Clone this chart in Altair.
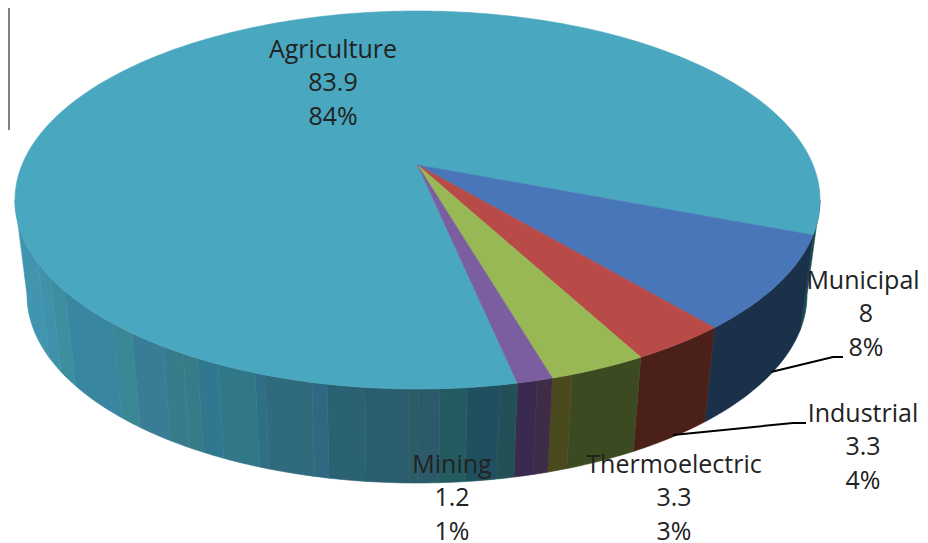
import math
import altair as alt
import pandas as pd

categories = ["Municipal", "Industrial", "Thermoelectric", "Mining", "Agriculture"]
values = [8, 3.3, 3.3, 1.2, 83.9]
percents = ["8%", "4%", "3%", "1%", "84%"]
top_colors = ["#4876b8", "#b84a48", "#98b856", "#7b5ea0", "#49a7c0"]

# shading of the wall: for each slice, where its facets end (degrees round the rim) and their colours
wall_sets = {
    "Municipal": ([], ["#1b3149"]),
    "Industrial": ([], ["#4a2018"]),
    "Thermoelectric": ([67.4], ["#3c4a22", "#4a4a1e"]),
    "Mining": ([72.7], ["#3f2c46", "#3a2a4f"]),
    "Agriculture": (
        [78.2, 82.9, 86.8, 89.9, 91.1, 97.5, 103.0, 105.2, 112.3, 113.8, 119.7, 123.2, 125.6,
         129.2, 135.2, 139.2, 151.1, 155.9, 160.6],
        ["#235056", "#20505f", "#235b60", "#2b5a6b", "#2a5c66", "#2a5d6e", "#2a6273", "#2f6880",
         "#2f6b7c", "#2f6f86", "#307788", "#30788f", "#367c87", "#387c8c", "#387c96", "#3a8795",
         "#38869f", "#3c8fa0", "#3f92a9", "#4195ae"],
    ),
}
back_edge_color = "#1c4a55"

START_DEG = 21.0
BOOST = 0.185
TOP = (417.5, 200.0, 402.5, 189.0)
BOTTOM = (417.0, 295.0, 390.0, 188.0)


def tilt(deg):
    """Angle on the drawn ellipse for a true pie angle (perspective view of the disc)."""
    c, s = math.cos(math.radians(deg)), math.sin(math.radians(deg))
    d = 1 - BOOST * s
    return math.degrees(math.atan2((s - BOOST) / d, math.sqrt(1 - BOOST**2) * c / d))


def on_rim(ellipse, t):
    cx, cy, a, b = ellipse
    return cx + a * math.cos(math.radians(t)), cy + b * math.sin(math.radians(t))


def arc(a, b, step=1.0):
    n = max(2, int(abs(b - a) / step) + 1)
    return [a + (b - a) * i / n for i in range(n + 1)]


total = sum(values)
edges = [START_DEG]
for v in values:
    edges.append(edges[-1] + v / total * 360)

x_scale = alt.Scale(domain=[8, 920], nice=False, zero=False)
y_scale = alt.Scale(domain=[543, 8], nice=False, zero=False)


def poly(points, color):
    df = pd.DataFrame({"px": [p[0] for p in points] + [points[0][0]],
                       "py": [p[1] for p in points] + [points[0][1]]})
    df["k"] = range(len(df))
    return alt.Chart(df).mark_line(fill=color, stroke=color, strokeWidth=0.6, clip=True).encode(
        x=alt.X("px:Q", scale=x_scale, axis=None),
        y=alt.Y("py:Q", scale=y_scale, axis=None),
        order="k:Q",
    )


def wall(t1, t2, color):
    ts = arc(t1, t2)
    return poly([on_rim(TOP, t) for t in ts] + [on_rim(BOTTOM, t) for t in reversed(ts)], color)


layers = [wall(0, tilt(edges[0]), back_edge_color)]
for i, name in enumerate(categories):
    start_t = tilt(edges[i])
    end_t = tilt(edges[i + 1]) if name != "Agriculture" else 180.0
    breaks, cols = wall_sets[name]
    ends = [start_t] + breaks + [end_t]
    for j, col in enumerate(cols):
        layers.append(wall(ends[j], ends[j + 1], col))

apex = (TOP[0], TOP[1] - BOOST * TOP[3])
for i in [4, 0, 1, 2, 3]:
    pts = [apex] + [on_rim(TOP, tilt(d)) for d in arc(edges[i], edges[i + 1])]
    layers.append(poly(pts, top_colors[i]))

# leader lines
leaders = pd.DataFrame({
    "g": ["m", "m", "m", "i", "i", "i"],
    "k": [0, 1, 2, 0, 1, 2],
    "px": [771, 833, 843, 673, 793, 806],
    "py": [372, 357, 357, 435, 423, 423],
})
layers.append(alt.Chart(leaders).mark_line(color="#000000", strokeWidth=2).encode(
    x=alt.X("px:Q", scale=x_scale, axis=None),
    y=alt.Y("py:Q", scale=y_scale, axis=None),
    detail="g:N", order="k:Q"))

# stray frame line at the picture's left edge
frame = pd.DataFrame({"px": [9, 9], "py": [8, 130]})
layers.append(alt.Chart(frame).mark_line(color="#808080", strokeWidth=2).encode(
    x=alt.X("px:Q", scale=x_scale, axis=None),
    y=alt.Y("py:Q", scale=y_scale, axis=None)))

name_x = [863, 863, 674, 452, 333]
number_x = [866, 863, 674, 452, 333]
label_y = [281, 414, 465, 465, 50]
line_gap = 33.4
rows = []
for name, v, p, nx, lx, ly in zip(categories, values, percents, name_x, number_x, label_y):
    rows.append({"t": name, "px": nx, "py": ly})
    rows.append({"t": f"{v:g}", "px": lx, "py": ly + line_gap})
    rows.append({"t": p, "px": lx, "py": ly + 2 * line_gap})
layers.append(alt.Chart(pd.DataFrame(rows)).mark_text(
    font="Open Sans", fontSize=25, color="#222222", align="center", baseline="middle"
).encode(
    x=alt.X("px:Q", scale=x_scale, axis=None),
    y=alt.Y("py:Q", scale=y_scale, axis=None),
    text="t:N"))

chart = alt.layer(*layers).properties(
    width=912, height=535, padding=0, autosize=alt.AutoSizeParams(type="none"),
    background="#ffffff"
).configure_view(stroke=None)

chart.save("out.html", embed_options={"renderer": "svg", "actions": False})
